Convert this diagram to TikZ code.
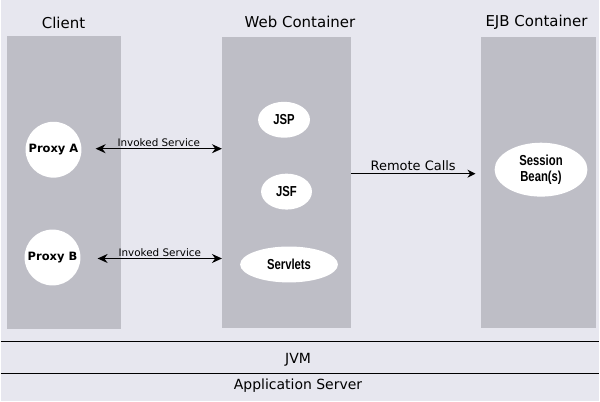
\documentclass[tikz,border=0pt]{standalone}
\usepackage{fontspec}
\setmainfont{DejaVu Sans}
\newfontfamily\beanfont[FakeStretch=0.78]{Liberation Sans}
\usepackage{xcolor}
\definecolor{panel}{HTML}{E7E7EF}
\definecolor{column}{HTML}{BEBEC6}
\usetikzlibrary{arrows.meta, shapes.geometric}

\begin{document}
\begin{tikzpicture}[x=1pt, y=-1pt,
  container/.style={fill=column, inner sep=0pt},
  title/.style={font=\fontsize{15}{18}\selectfont},
  proxy/.style={circle, fill=white, minimum size=56pt, inner sep=0pt,
    font=\bfseries\fontsize{11.5}{13}\selectfont},
  comp/.style={ellipse, fill=white, inner sep=0pt, minimum height=36pt,
    font=\beanfont\bfseries\fontsize{14.5}{16.5}\selectfont},
  invoke/.style={{Stealth[length=10pt,width=9pt]}-{Stealth[length=10pt,width=9pt]}, line width=1.4pt},
  call/.style={-{Stealth[length=8pt,width=8pt]}, line width=1.4pt},
  small/.style={font=\fontsize{10.4}{12}\selectfont, inner sep=1pt},
  layer/.style={font=\fontsize{14}{16}\selectfont}]
  \fill[panel] (0,0) rectangle (600,402);

  \node[container, minimum width=115pt, minimum height=294pt] (client) at (63.5,183) {};
  \node[container, minimum width=129pt, minimum height=292pt] (web)    at (286.5,183) {};
  \node[container, minimum width=116pt, minimum height=292pt] (ejb)    at (539,183) {};

  \node[title] (clientTitle) at (63,23)  {Client};
  \node[title] (webTitle)    at (300,22) {Web Container};
  \node[title] (ejbTitle)    at (537,22) {EJB Container};

  \node[proxy] (proxyA) at (53,150) {Proxy A};
  \node[proxy] (proxyB) at (52,258) {Proxy B};

  \node[comp, minimum width=52pt] (jsp)      at (284,120)   {JSP};
  \node[comp, minimum width=51pt] (jsf)      at (286.5,192) {JSF};
  \node[comp, minimum width=98pt] (servlets) at (289,265)   {Servlets};
  \node[comp, minimum width=93pt, minimum height=54pt, align=center] (bean) at (541.5,170)
    {Session\\Bean(s)};

  \draw[invoke] ([xshift=14pt,yshift=1pt]proxyA.east) -- ([yshift=1pt]proxyA -| web.west)
    node[small, midway, anchor=south] (invokeA) {Invoked Service};
  \draw[invoke] ([xshift=17pt,yshift=-1pt]proxyB.east) -- ([yshift=-1pt]proxyB -| web.west)
    node[small, midway, anchor=south] (invokeB) {Invoked Service};

  \coordinate (remote) at (351,174);
  \draw[call] (remote) -- ([xshift=-5pt]remote -| ejb.west)
    node[midway, anchor=south, inner sep=2.5pt, font=\fontsize{13}{15}\selectfont] (remoteLabel) {Remote Calls};

  \draw[line width=1.2pt] (0,342) -- (600,342);
  \draw[line width=1.2pt] (0,374) -- (600,374);
  \node[layer] (jvm)       at (298,361) {JVM};
  \node[layer] (appserver) at (298,386) {Application Server};
\end{tikzpicture}
\end{document}
